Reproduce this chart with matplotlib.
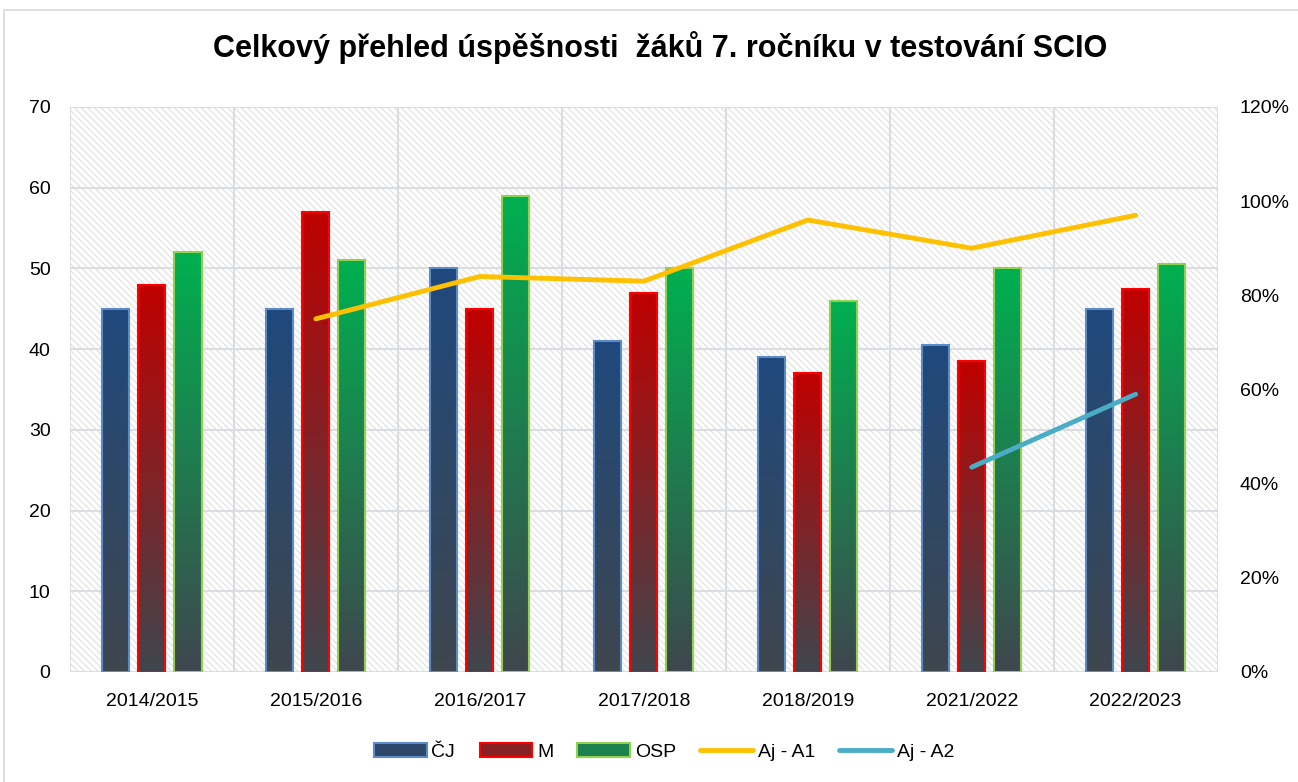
import matplotlib.pyplot as plt
import numpy as np
from matplotlib.colors import LinearSegmentedColormap
from matplotlib.patches import Rectangle, Patch
from matplotlib.lines import Line2D

years = ["2014/2015", "2015/2016", "2016/2017", "2017/2018", "2018/2019", "2021/2022", "2022/2023"]
cj = [45, 45, 50, 41, 39, 40.5, 45]
m = [48, 57, 45, 47, 37, 38.5, 47.5]
osp = [52, 51, 59, 50, 46, 50, 50.5]
# percent values on the right axis
aj_a1 = [np.nan, 75, 84, 83, 96, 90, 97]
aj_a2 = [np.nan, np.nan, np.nan, np.nan, np.nan, 43.5, 59]

plt.rcParams['font.family'] = ['Liberation Sans', 'DejaVu Sans']
plt.rcParams['hatch.linewidth'] = 0.8

fig = plt.figure(figsize=(12.98, 7.82), dpi=100)
ax = fig.add_axes([0.0539, 0.1407, 0.8842, 0.7225])

# hatched plot background
ax.add_patch(Rectangle((0, 0), 1, 1, transform=ax.transAxes, facecolor='white',
                       edgecolor='#E0E0E0', hatch='\\\\\\\\\\', lw=0, zorder=0))

x = np.arange(len(years))
w = 0.165
offs = [-0.22, 0, 0.22]
bottom_col = '#3F464E'
series = [(cj, '#1F497D', '#5B8BC9', 'ČJ'),
          (m, '#C00000', '#FF0000', 'M'),
          (osp, '#00B050', '#92D050', 'OSP')]
grad = np.linspace(0, 1, 256).reshape(-1, 1)
handles = []
for (vals, top, edge, name), off in zip(series, offs):
    cmap = LinearSegmentedColormap.from_list(name, [bottom_col, top])
    bars = ax.bar(x + off, vals, w, facecolor='none', edgecolor=edge, lw=1.5, zorder=3)
    for b in bars:
        x0, y0 = b.get_xy()
        ax.imshow(grad, cmap=cmap, origin='lower', aspect='auto', zorder=2,
                  extent=[x0, x0 + b.get_width(), y0, y0 + b.get_height()])
    handles.append(Patch(facecolor=cmap(0.55), edgecolor=edge, lw=1.5, label=name))

ax.set_xlim(-0.5, 6.5)
ax.set_ylim(0, 70)
ax.set_yticks(range(0, 71, 10))
ax.set_xticks(x)
ax.set_xticklabels(years)
ax.set_xticks(np.arange(-0.5, 7, 1), minor=True)
ax.set_axisbelow(True)
ax.grid(axis='y', color='#DADDE1', lw=1.5)
ax.grid(axis='x', which='minor', color='#DADDE1', lw=1.5)
ax.tick_params(which='both', length=0, labelsize=14)
ax.tick_params(axis='x', pad=15)
ax.tick_params(axis='y', pad=14)
for s in ax.spines.values():
    s.set_visible(False)

ax2 = ax.twinx()
ax2.plot(x, aj_a1, color='#FFC000', lw=3.5, solid_capstyle='round', zorder=4)
ax2.plot(x, aj_a2, color='#4BACC6', lw=3.5, solid_capstyle='round', zorder=4)
ax2.set_ylim(0, 120)
ax2.set_yticks(range(0, 121, 20))
ax2.set_yticklabels([f"{v}%" for v in range(0, 121, 20)])
ax2.tick_params(length=0, labelsize=14, pad=16)
for s in ax2.spines.values():
    s.set_visible(False)

handles.append(Line2D([], [], color='#FFC000', lw=3.5, solid_capstyle='round', label='Aj - A1'))
handles.append(Line2D([], [], color='#4BACC6', lw=3.5, solid_capstyle='round', label='Aj - A2'))
fig.legend(handles=handles, loc='center', bbox_to_anchor=(0.5116, 1 - 752 / 782), ncol=5,
           frameon=False, fontsize=14, handlelength=2.7, handleheight=0.7,
           columnspacing=1.25, handletextpad=0.25)

fig.text(0.5085, 1 - 57 / 782, "Celkový přehled úspěšnosti  žáků 7. ročníku v testování SCIO",
         ha='center', va='baseline', fontsize=22, fontweight='bold')

# outer chart border
fig.add_artist(Rectangle((4 / 1298, -0.01), 1.0, (772 / 782) + 0.01, transform=fig.transFigure,
                         facecolor='none', edgecolor='#D9D9D9', lw=1.2))

fig.savefig('out.png', dpi=100)
